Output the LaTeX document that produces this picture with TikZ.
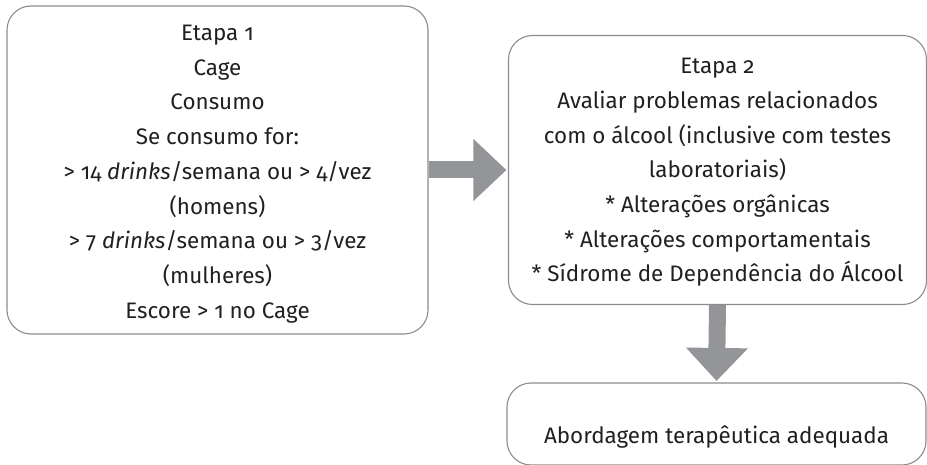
\documentclass[tikz,border=0pt]{standalone}
\usepackage{fontspec}
\setmainfont{Fira Sans}[ItalicFont=* Italic, Numbers=OldStyle]
\usetikzlibrary{arrows.meta}
\definecolor{boxline}{HTML}{8C8C8C}
\definecolor{arrowgray}{HTML}{939598}
\definecolor{txt}{HTML}{231F20}
\begin{document}
\begin{tikzpicture}[x=1bp,y=-1bp,
  stagebox/.style={draw=boxline, line width=1.1bp, rounded corners=24bp, inner sep=0pt},
  stagetext/.style={align=center, text=txt, inner sep=0pt, font=\fontsize{22.5}{34.8}\selectfont},
  bigarrow/.style={draw=arrowgray, line width=17bp,
    -{Triangle[length=33bp,width=60bp]}, shorten >=1.5bp}]
\useasboundingbox (0,0) rectangle (927,465);
\node[stagebox, minimum width=421bp, minimum height=328bp] (b1) at (217.5,170) {};
\node[stagetext] (t1) at (217.5,174)
  {Etapa 1\\Cage\\Consumo\\Se consumo for:\\> 14 \textit{drinks}/semana ou > 4/vez\\(homens)\\> 7 \textit{drinks}/semana ou > 3/vez\\(mulheres)\\Escore > 1 no Cage};
\node[stagebox, minimum width=418bp, minimum height=269bp] (b2) at (717.5,170) {};
\node[stagetext] (t2) at (717.5,172.5)
  {Etapa 2\\Avaliar problemas relacionados\\com o álcool (inclusive com testes\\laboratoriais)\\* Alterações orgânicas\\* Alterações comportamentais\\* Sídrome de Dependência do Álcool};
\node[stagebox, minimum width=419bp, minimum height=82bp] (b3) at (716.5,424) {};
\node[stagetext] (t3) at (716.5,437) {Abordagem terapêutica adequada};
\draw[bigarrow] (b1.east) -- (b2.west);
\draw[bigarrow] (b2.south) -- (b3.north);
\end{tikzpicture}
\end{document}
